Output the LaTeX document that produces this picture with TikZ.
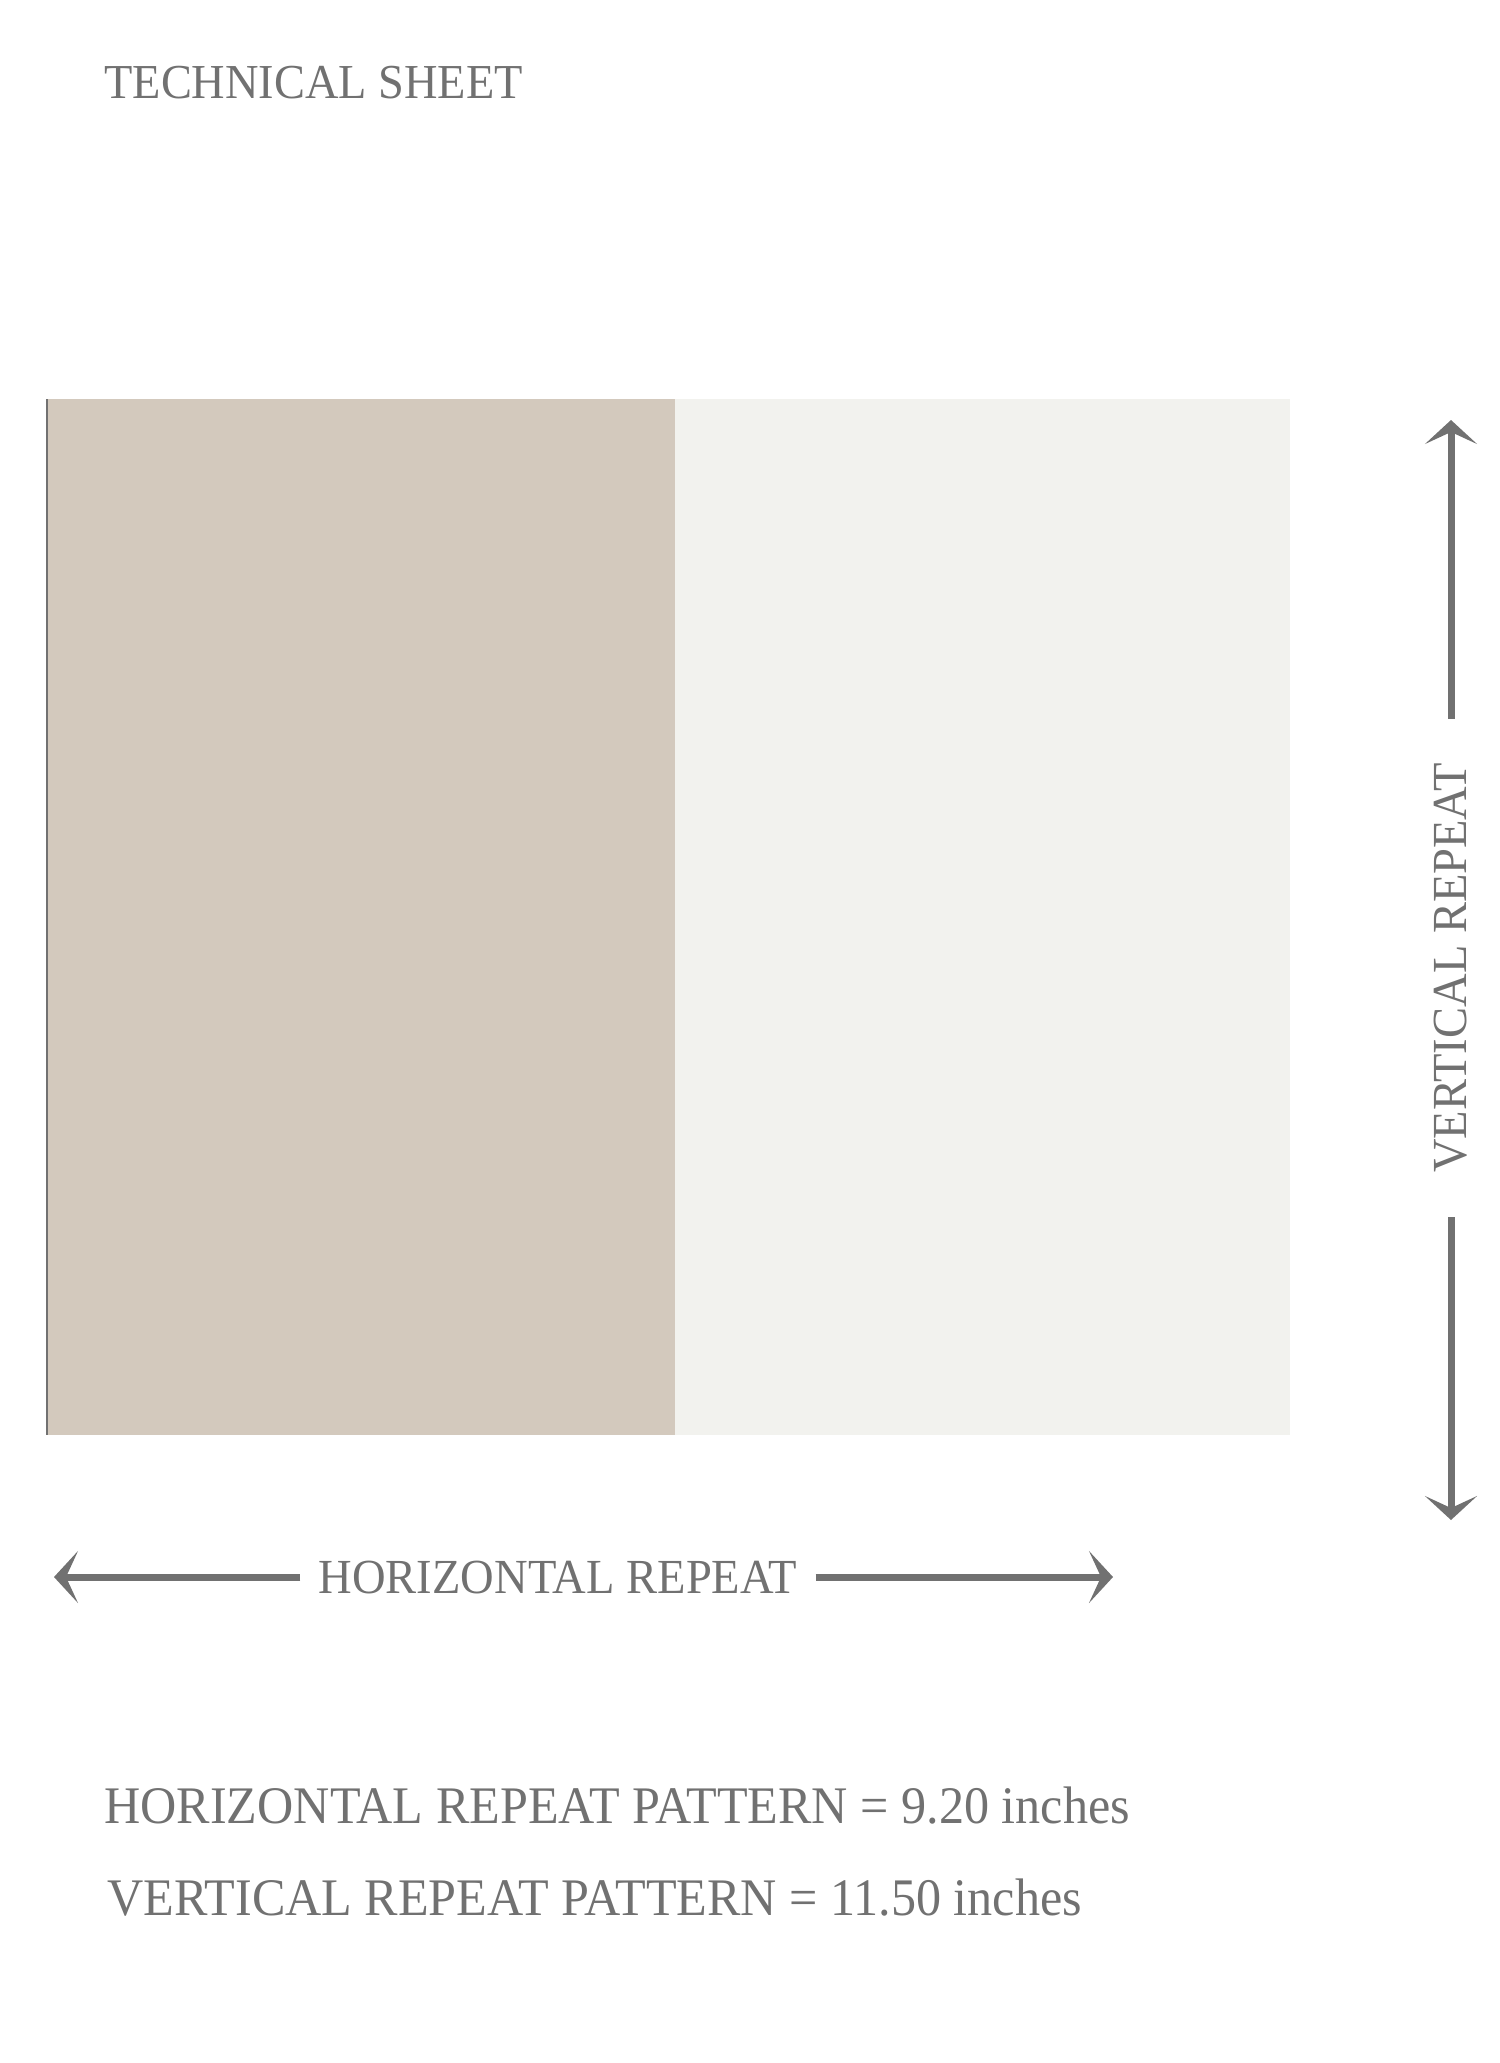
\documentclass[tikz,border=0pt]{standalone}
\usepackage{fontspec}
\setmainfont{Liberation Serif}[FakeStretch=0.95]
\usetikzlibrary{arrows.meta}
\definecolor{sheetgrey}{RGB}{113,113,113}
\definecolor{stripetan}{RGB}{211,201,189}
\definecolor{stripelight}{RGB}{242,242,238}
\tikzset{
  sheettext/.style={text=sheetgrey, inner sep=0pt},
  repeatarrow/.style={draw=sheetgrey, line width=3.5pt, -{Stealth[length=12pt,width=26pt,inset=6pt]}}
}
\begin{document}
\begin{tikzpicture}[x=0.5pt,y=0.5pt,yscale=-1,xscale=1]
\useasboundingbox (0,0) rectangle (1500,2063);
% Text: title
\node [sheettext, anchor=base west, font=\fontsize{24.4pt}{28pt}\selectfont] (title) at (104,98) {TECHNICAL SHEET};
% Shape: Rectangle (tan stripe)
\fill [stripetan] (46,399) rectangle (675,1435);
% Shape: Rectangle (light stripe)
\fill [stripelight] (675,399) rectangle (1290,1435);
% Straight Lines (left edge)
\draw [sheetgrey, line width=1pt] (47,399) -- (47,1435);
% Vertical repeat
\coordinate (vtop) at (1451,420);
\coordinate (vbot) at (1451,1520);
\node [sheettext, rotate=90, inner xsep=22pt, font=\fontsize{24.5pt}{28pt}\selectfont] (vlabel) at (1451,968) {VERTICAL REPEAT};
\draw [repeatarrow] (vlabel) -- (vtop);
\draw [repeatarrow] (vlabel) -- (vbot);
% Horizontal repeat
\coordinate (hleft) at (54,1577);
\coordinate (hright) at (1113,1577);
\node [sheettext, inner xsep=9pt, font=\fontsize{24.5pt}{28pt}\selectfont] (hlabel) at (558,1577) {HORIZONTAL REPEAT};
\draw [repeatarrow] (hlabel) -- (hleft);
\draw [repeatarrow] (hlabel) -- (hright);
% Text: repeat sizes
\node [sheettext, anchor=base west, font=\fontsize{26.4pt}{30pt}\selectfont] (hsize) at (104,1823) {HORIZONTAL REPEAT PATTERN = 9.20 inches};
\node [sheettext, anchor=base west, font=\fontsize{26.4pt}{30pt}\selectfont] (vsize) at (107,1915) {VERTICAL REPEAT PATTERN = 11.50 inches};
\end{tikzpicture}
\end{document}
